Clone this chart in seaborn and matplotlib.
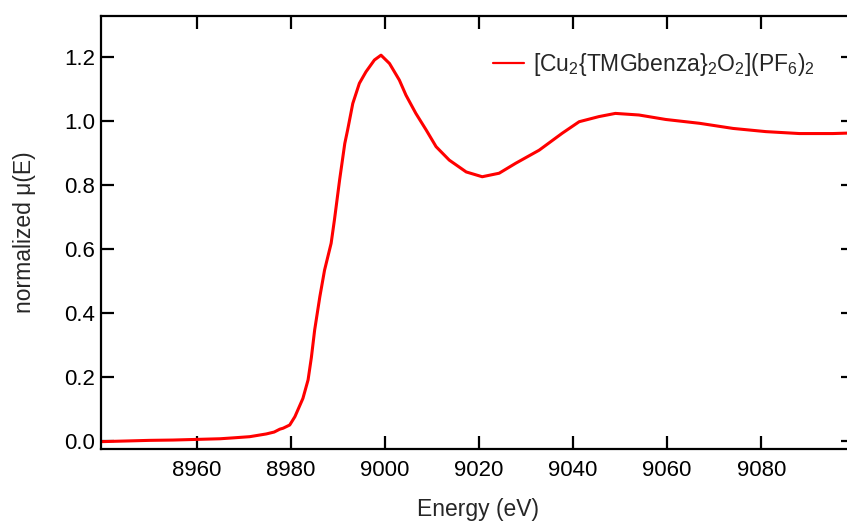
import matplotlib
matplotlib.use("Agg")
import matplotlib.pyplot as plt
import seaborn as sns
import pandas as pd

energy = [8939.8, 8945.0, 8950.0, 8955.0, 8960.0, 8965.0, 8968.0, 8971.3, 8974.8,
          8976.5, 8977.7, 8978.4, 8979.8, 8980.9, 8982.6, 8983.7, 8984.4, 8985.1,
          8986.2, 8987.2, 8988.6, 8989.3, 8990.4, 8991.5, 8992.1, 8993.2, 8994.6,
          8996.0, 8997.8, 8999.2, 9001.0, 9003.1, 9004.5, 9006.6, 9008.8, 9010.9,
          9013.7, 9017.3, 9020.7, 9024.3, 9027.8, 9032.8, 9037.7, 9041.3, 9045.5,
          9049.0, 9054.0, 9059.7, 9066.9, 9074.0, 9081.0, 9088.1, 9095.2, 9099.7]
mu = [-0.003, -0.001, 0.001, 0.002, 0.004, 0.006, 0.009, 0.0125, 0.021,
      0.027, 0.036, 0.039, 0.049, 0.075, 0.132, 0.19, 0.26, 0.346,
      0.45, 0.533, 0.617, 0.69, 0.815, 0.929, 0.971, 1.054, 1.117,
      1.153, 1.19, 1.205, 1.179, 1.127, 1.08, 1.023, 0.971, 0.919,
      0.877, 0.84, 0.825, 0.836, 0.867, 0.908, 0.961, 0.997, 1.013,
      1.023, 1.018, 1.004, 0.992, 0.976, 0.966, 0.96, 0.96, 0.962]
series_label = r"[Cu$_2${TMGbenza}$_2$O$_2$](PF$_6$)$_2$"
x_ticks = [8960, 8980, 9000, 9020, 9040, 9060, 9080]
y_ticks = [0.0, 0.2, 0.4, 0.6, 0.8, 1.0, 1.2]

df = pd.DataFrame({"Energy": energy, "mu": mu, "sample": series_label})

sns.set_style("ticks")
plt.rcParams["font.family"] = ["Liberation Sans", "DejaVu Sans"]
plt.rcParams["mathtext.fontset"] = "custom"
plt.rcParams["mathtext.rm"] = "Liberation Sans"
plt.rcParams["mathtext.it"] = "Liberation Sans"
plt.rcParams["mathtext.default"] = "regular"

fig = plt.figure(figsize=(8.47, 5.22), dpi=100)
ax = fig.add_axes([101/847, 73/522, (854-101)/847, (449-15.5)/522])

sns.lineplot(data=df, x="Energy", y="mu", hue="sample", palette=["#ff0000"],
             linewidth=2.2, ax=ax, legend=True, estimator=None, sort=False)

ax.set_xlim(8939.7, 9099.7)
ax.set_ylim(-0.026, 1.329)
ax.set_xticks(x_ticks)
ax.set_yticks(y_ticks)
ax.set_yticklabels([f"{v:.1f}" for v in y_ticks])

for s in ax.spines.values():
    s.set_visible(True)
    s.set_linewidth(1.6)
    s.set_color("black")
ax.tick_params(direction="in", length=9.5, width=1.6, colors="black",
               top=True, right=True, labelsize=16)
ax.tick_params(axis="x", pad=8)
ax.tick_params(axis="y", pad=4.5)

ax.set_xlabel("Energy (eV)", fontsize=16.5, labelpad=12)
ax.set_ylabel("normalized \u03bc(E)", fontsize=16.5, labelpad=20)

leg = ax.legend(loc="center left", bbox_to_anchor=(493/847, 1-65/522),
                bbox_transform=fig.transFigure, frameon=False, fontsize=16.5,
                handlelength=1.35, handletextpad=0.4, borderpad=0, borderaxespad=0)
for line in leg.get_lines():
    line.set_linewidth(1.6)

fig.savefig("out.png", dpi=100)
